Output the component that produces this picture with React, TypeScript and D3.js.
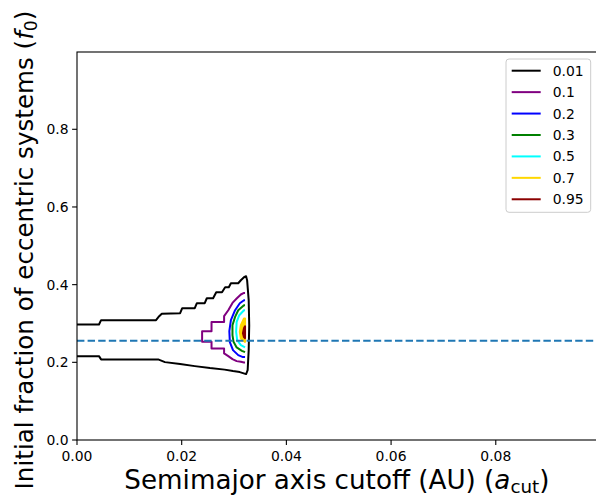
import React from 'react';
import * as d3 from 'd3';

const levelLabels = ['0.01', '0.1', '0.2', '0.3', '0.5', '0.7', '0.95'];
const levelColors = ['#000000', '#800080', '#0000ff', '#008000', '#00ffff', '#ffd700', '#8b0000'];

// contour polylines [a_cut (AU), f0]
const contour001: [number, number][] = [
  [0, 0.2974], [0.0042, 0.2974], [0.0046, 0.3085], [0.0151, 0.3085], [0.0157, 0.3188], [0.0162, 0.3252],
  [0.0197, 0.3265], [0.0201, 0.3393], [0.0225, 0.3393], [0.0229, 0.3522], [0.0244, 0.3522], [0.0248, 0.365],
  [0.026, 0.365], [0.0266, 0.3805], [0.0277, 0.3805], [0.0283, 0.3933], [0.029, 0.3933], [0.0294, 0.4036],
  [0.0308, 0.4036], [0.0313, 0.4113], [0.0319, 0.419], [0.0323, 0.4216],
  [0.0325, 0.411], [0.0328, 0.36], [0.0329, 0.2956], [0.0328, 0.2314], [0.0326, 0.18], [0.0323, 0.1697],
  [0.0311, 0.1748], [0.0298, 0.1774], [0.0282, 0.1812], [0.0254, 0.1851], [0.0225, 0.1902], [0.0197, 0.1954],
  [0.0168, 0.2005], [0.0155, 0.2075], [0.0046, 0.2075], [0.0042, 0.2159], [0, 0.2159],
];
const contour01: [number, number][] = [
  [0.0321, 0.3787], [0.0319, 0.3787], [0.0313, 0.3746], [0.0305, 0.3643], [0.0297, 0.353], [0.0289, 0.3342],
  [0.0281, 0.3188], [0.0281, 0.3041], [0.0257, 0.3041], [0.0257, 0.2802], [0.0239, 0.2802], [0.0239, 0.2527],
  [0.0257, 0.2527], [0.0257, 0.2357], [0.0281, 0.2357], [0.0281, 0.2229], [0.0289, 0.2159], [0.0297, 0.2082],
  [0.0305, 0.2031], [0.0313, 0.2013], [0.0319, 0.1997], [0.0321, 0.1997],
];
const contour02: [number, number][] = [
  [0.0321, 0.3599], [0.0319, 0.3599], [0.0311, 0.3522], [0.0302, 0.3342], [0.0294, 0.3085], [0.0291, 0.2802],
  [0.0292, 0.2519], [0.0298, 0.2314], [0.0308, 0.2185], [0.0317, 0.2134], [0.0321, 0.2134],
];
const contour03: [number, number][] = [
  [0.0321, 0.347], [0.0319, 0.347], [0.0308, 0.3342], [0.0302, 0.317], [0.0297, 0.2956], [0.0297, 0.2699],
  [0.0299, 0.2527], [0.0305, 0.2383], [0.0315, 0.2296], [0.0321, 0.2262],
];
const contour05: [number, number][] = [
  [0.0321, 0.3342], [0.0319, 0.3342], [0.031, 0.3213], [0.0305, 0.3041], [0.0304, 0.2784], [0.0306, 0.2571],
  [0.0313, 0.2442], [0.0321, 0.2383],
];
const contour07: [number, number][] = [
  [0.0321, 0.3128], [0.0319, 0.3128], [0.0313, 0.2956], [0.0311, 0.2784], [0.0313, 0.2614], [0.0321, 0.2527],
];
const contour095: [number, number][] = [
  [0.0321, 0.2931], [0.0319, 0.2879], [0.0317, 0.2751], [0.0319, 0.2648], [0.0321, 0.2622],
];
const contours = [contour001, contour01, contour02, contour03, contour05, contour07, contour095];
// the innermost levels appear as solid patches in the reference
const filledLevels = [false, false, false, false, false, true, true];

const dashedLevel = 0.2553;
const xTicks = [0, 0.02, 0.04, 0.06, 0.08];
const yTicks = [0, 0.2, 0.4, 0.6, 0.8];
const xDomain: [number, number] = [0, 0.0993];
const yDomain: [number, number] = [0, 0.999];

const W = 596;
const H = 502;
const FONT = 'DejaVu Sans, sans-serif';

export default function App() {
  const x = d3.scaleLinear().domain(xDomain).range([77, 596.8]);
  const y = d3.scaleLinear().domain(yDomain).range([440, 52]);
  const line = d3
    .line<[number, number]>()
    .x((d) => x(d[0]))
    .y((d) => y(d[1]));

  const legendRows = levelLabels.map((l, i) => ({ label: l, color: levelColors[i], cy: 70.7 + i * 21.43 }));

  return (
    <svg
      width={W}
      height={H}
      style={{ position: 'absolute', left: 0, top: 0, background: '#fff' }}
      fontFamily={FONT}
    >
      <rect x={0} y={0} width={W} height={H} fill="#fff" />
      {/* contours */}
      {contours.map((c, i) => (
        <path
          key={i}
          d={(line(c) || '') + (filledLevels[i] ? 'Z' : '')}
          fill={filledLevels[i] ? levelColors[i] : 'none'}
          stroke={levelColors[i]}
          strokeWidth={2}
          strokeLinejoin="round"
        />
      ))}
      {/* dashed horizontal line */}
      <line
        x1={x(xDomain[0])}
        x2={x(xDomain[1])}
        y1={y(dashedLevel)}
        y2={y(dashedLevel)}
        stroke="#1f77b4"
        strokeWidth={2}
        strokeDasharray="7.4,3.2"
      />
      {/* spines */}
      <rect
        x={x(xDomain[0])}
        y={y(yDomain[1])}
        width={x(xDomain[1]) - x(xDomain[0])}
        height={y(yDomain[0]) - y(yDomain[1])}
        fill="none"
        stroke="#000"
        strokeWidth={1.1}
      />
      {/* x ticks */}
      {xTicks.map((t) => (
        <g key={'x' + t}>
          <line x1={x(t)} x2={x(t)} y1={440} y2={444.9} stroke="#000" strokeWidth={1.1} />
          <text x={x(t)} y={461} fontSize={13.9} textAnchor="middle" fill="#000">
            {d3.format('.2f')(t)}
          </text>
        </g>
      ))}
      {/* y ticks */}
      {yTicks.map((t) => (
        <g key={'y' + t}>
          <line x1={77} x2={72.1} y1={y(t)} y2={y(t)} stroke="#000" strokeWidth={1.1} />
          <text x={68.6} y={y(t) + 5} fontSize={13.9} textAnchor="end" fill="#000">
            {d3.format('.1f')(t)}
          </text>
        </g>
      ))}
      {/* axis labels */}
      <text x={(77 + 596.8) / 2} y={489} fontSize={26.2} textAnchor="middle" fill="#000">
        Semimajor axis cutoff (AU) (
        <tspan fontStyle="italic">a</tspan>
        <tspan fontSize={18.3} dy={4}>cut</tspan>
        <tspan dy={-4}>)</tspan>
      </text>
      <text
        transform={`translate(33, ${(440 + 52) / 2 + 4}) rotate(-90)`}
        fontSize={24.6}
        textAnchor="middle"
        fill="#000"
      >
        Initial fraction of eccentric systems (
        <tspan fontStyle="italic">f</tspan>
        <tspan fontSize={17.2} dy={4}>0</tspan>
        <tspan dy={-4}>)</tspan>
      </text>
      {/* legend */}
      <rect x={506} y={59} width={84.7} height={153.3} rx={3} ry={3} fill="#fff" fillOpacity={0.8} stroke="#cccccc" strokeWidth={1} />
      {legendRows.map((r) => (
        <g key={r.label}>
          <line x1={511.7} x2={540.7} y1={r.cy} y2={r.cy} stroke={r.color} strokeWidth={2} />
          <text x={552.7} y={r.cy + 5} fontSize={13.9} fill="#000">
            {r.label}
          </text>
        </g>
      ))}
    </svg>
  );
}
